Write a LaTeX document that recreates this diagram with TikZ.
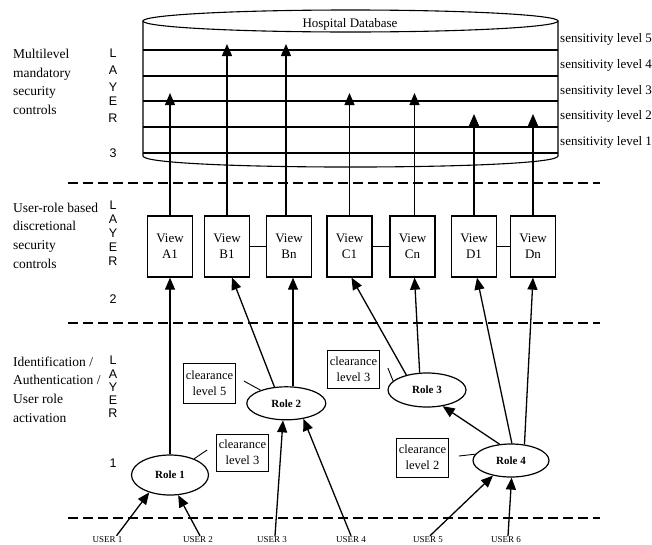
\documentclass[tikz,border=0pt]{standalone}
\usepackage{fontspec}
\setmainfont{Liberation Serif}
\newfontfamily\layerfont{Liberation Sans}
\usetikzlibrary{arrows.meta,shapes.geometric,calc}
\begin{document}
\begin{tikzpicture}[x=1pt,y=-1pt,
  arr/.style={line width=1.3pt,-{Triangle[length=12pt,width=10pt]}},
  viewbox/.style={draw,line width=1.3pt,minimum width=45pt,minimum height=61pt,inner sep=0pt,align=center,font=\fontsize{13}{16}\selectfont},
  role/.style={draw,ellipse,line width=1.2pt,inner sep=0pt,font=\bfseries\fontsize{11}{13}\selectfont},
  clear/.style={draw,line width=0.8pt,minimum width=52pt,inner sep=1pt,align=center,font=\fontsize{12.5}{16}\selectfont},
  layerdash/.style={line width=2pt,dash pattern=on 10pt off 5pt},
  sens/.style={anchor=base west,inner sep=0pt,font=\fontsize{13}{15}\selectfont},
  lay/.style={inner sep=0pt,font=\layerfont\fontsize{12.5}{14}\selectfont},
  side/.style={anchor=north west,inner sep=0pt,align=left,font=\fontsize{13.5}{18.7}\selectfont},
  user/.style={inner sep=1pt,font=\fontsize{9}{10}\selectfont},
  thinline/.style={line width=0.9pt},
  dbline/.style={line width=1.1pt}
]
\useasboundingbox (0,0) rectangle (652,544);

% database cylinder
\draw[dbline] (143,21) -- (143,156) .. controls (143,170.7) and (558,170.7) .. (558,156) -- (558,21);
\draw[dbline] (350.5,21) ellipse [x radius=207.5, y radius=11];
\foreach \yy in {50,76,101,127,153} \draw[dbline] (143,\yy) -- (558,\yy);
\node[font=\fontsize{13}{15}\selectfont] (db) at (350,24) {Hospital Database};

\node[sens] (s5) at (560,42.5) {sensitivity level 5};
\node[sens] (s4) at (560,68) {sensitivity level 4};
\node[sens] (s3) at (560,94) {sensitivity level 3};
\node[sens] (s2) at (560,119.5) {sensitivity level 2};
\node[sens] (s1) at (560,145) {sensitivity level 1};

% side labels
\node[side] (t3) at (13,49) {Multilevel\\mandatory\\security\\controls};
\node[side] (t2) at (13,202.5) {User-role based\\discretional\\security\\controls};
\node[side] (t1) at (13,356.5) {Identification /\\Authentication /\\User role\\activation};

\foreach \ch/\yy [count=\i] in {L/53,A/70,Y/87,E/101,R/118,3/153}
  \node[lay] (la\i) at (113,\yy) {\ch};
\foreach \ch/\yy [count=\i] in {L/205,A/219,Y/233,E/247,R/261,2/299}
  \node[lay] (lb\i) at (113,\yy) {\ch};
\foreach \ch/\yy [count=\i] in {L/360,A/374,Y/387.5,E/400,R/413,1/463}
  \node[lay] (lc\i) at (113,\yy) {\ch};

% layer separators
\draw[layerdash] (68,182.5) -- (600,182.5);
\draw[layerdash] (68,323) -- (600,323);
\draw[layerdash] (68,518) -- (600,518);

% views
\node[viewbox] (A1) at (170,246.5) {View\\A1};
\node[viewbox] (B1) at (227,246.5) {View\\B1};
\node[viewbox] (Bn) at (289,246.5) {View\\Bn};
\node[viewbox] (C1) at (349.5,246.5) {View\\C1};
\node[viewbox] (Cn) at (412.5,246.5) {View\\Cn};
\node[viewbox] (D1) at (474,246.5) {View\\D1};
\node[viewbox] (Dn) at (533,246.5) {View\\Dn};
\draw[thinline] (B1) -- (Bn);
\draw[thinline] (C1) -- (Cn);
\draw[thinline] (D1) -- (Dn);

% target levels in database
\coordinate (lv5) at (0,44);
\coordinate (lv3) at (0,93);
\coordinate (lv2) at (0,114);
\coordinate (bnt) at ([xshift=-3pt]Bn.north);
\coordinate (cnt) at ([xshift=2pt]Cn.north);
\draw[arr] (A1.north) -- (A1.north |- lv3);
\draw[arr] (B1.north) -- (B1.north |- lv5);
\draw[arr] (bnt) -- (bnt |- lv5);
\draw[arr] (C1.north) -- (C1.north |- lv3);
\draw[arr] (cnt) -- (cnt |- lv3);
\draw[arr] (D1.north) -- (D1.north |- lv2);
\draw[arr] (Dn.north) -- (Dn.north |- lv2);

% roles
\node[role,minimum width=77pt,minimum height=40pt] (R1) at (170,475) {Role 1};
\node[role,minimum width=79pt,minimum height=33pt] (R2) at (286.3,403.3) {Role 2};
\node[role,minimum width=78pt,minimum height=34pt] (R3) at (427,390) {Role 3};
\node[role,minimum width=76pt,minimum height=33pt] (R4) at (511,460.5) {Role 4};

% clearance boxes
\node[clear,minimum height=40pt] (CL5) at (209.5,383) {clearance\\level 5};
\node[clear,minimum height=37pt] (CL3a) at (242.5,452.5) {clearance\\level 3};
\node[clear,minimum height=38pt] (CL3b) at (353.5,369) {clearance\\level 3};
\node[clear,minimum height=39pt] (CL2) at (422.5,457.5) {clearance\\level 2};
\draw[thinline] ($(CL5.east)+(8,-2)$) -- (R2.153);
\draw[thinline] (R1.34) -- ($(CL3a.west)+(-9,-2.5)$);
\draw[thinline] ($(CL3b.east)+(8,-1)$) -- (R3.165);
\draw[thinline] ($(CL2.east)+(10,-1.5)$) -- (R4.170);

% roles to views
\draw[arr] (R1) -- (A1);
\draw[arr] (R2.126) -- ([xshift=5pt]B1.south);
\coordinate (bnb) at ([xshift=4pt]Bn.south);
\draw[arr] (bnb |- R2.north) -- (bnb);
\draw[arr] (R3.144) -- ([xshift=2pt]C1.south);
\draw[arr] (R3.113) -- ([xshift=2pt]Cn.south);
\draw[arr] (R4.87) -- ([xshift=3pt]D1.south);
\draw[arr] (R4.50) -- (Dn.south);
\draw[arr] (R4.125) -- (R3.314);

% users
\node[user] (U1) at (107.5,540) {USER 1};
\node[user] (U2) at (198,540) {USER 2};
\node[user] (U3) at (272,540) {USER 3};
\node[user] (U4) at (351,540) {USER 4};
\node[user] (U5) at (428,540) {USER 5};
\node[user] (U6) at (506,540) {USER 6};
\draw[arr] ([xshift=9pt]U1.north) -- (R1.220);
\draw[arr] ([xshift=2pt]U2.north) -- (R1.292);
\draw[arr] ([xshift=3pt]U3.north) -- (R2.259);
\draw[arr] (U4.north) -- (R2.318);
\draw[arr] ([xshift=2pt]U5.north) -- (R4.220);
\draw[arr] ([xshift=2pt]U6.north) -- (R4.272);
\end{tikzpicture}
\end{document}
